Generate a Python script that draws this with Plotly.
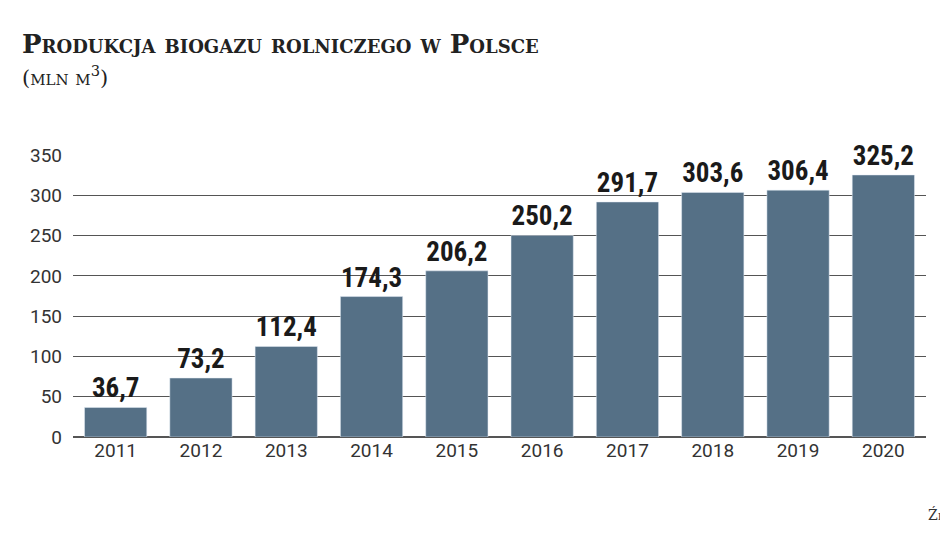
import plotly.graph_objects as go

years = ["2011", "2012", "2013", "2014", "2015", "2016", "2017", "2018", "2019", "2020"]
production = [36.7, 73.2, 112.4, 174.3, 206.2, 250.2, 291.7, 303.6, 306.4, 325.2]
labels = [f"{v:.1f}".replace(".", ",") for v in production]

L, R, T, B = 65, 30, 147, 107
W, H = 948, 536


def px_x(x):
    return (x - L) / (W - L - R)


def px_y(y):
    # y measured from the bottom of the page
    return (y - B) / (H - T - B)


fig = go.Figure(
    go.Bar(
        x=years,
        y=production,
        text=labels,
        textposition="outside",
        textfont=dict(family="Roboto Condensed, Roboto, sans-serif", size=27, color="#1a1a1a", weight="bold"),
        marker=dict(color="#557086"),
        cliponaxis=False,
    )
)

fig.update_layout(
    width=W,
    height=H,
    paper_bgcolor="white",
    plot_bgcolor="white",
    margin=dict(l=L, r=R, t=T, b=B),
    bargap=0.27,
    showlegend=False,
    font=dict(family="Roboto, sans-serif", color="#333"),
    xaxis=dict(tickfont=dict(size=19, color="#333"), showline=False, ticks=""),
    yaxis=dict(
        range=[0, 350],
        dtick=50,
        gridcolor="#555",
        gridwidth=1,
        tickfont=dict(size=19, color="#333"),
        zeroline=True,
        zerolinecolor="#555",
        ticklabelstandoff=10,
    ),
    annotations=[
        dict(text="<b>Produkcja biogazu rolniczego w Polsce</b>", x=px_x(12), y=px_y(500),
             font=dict(family="DejaVu Serif", size=26, color="#222", variant="small-caps")),
        dict(text="(mln m<sup>3</sup>)", x=px_x(12), y=px_y(468),
             font=dict(family="DejaVu Serif", size=21, color="#222", variant="small-caps")),
        dict(text="Źródło: KOWR", x=px_x(918), y=px_y(30), xanchor="right",
             font=dict(family="DejaVu Serif", size=14, color="#333", variant="small-caps")),
    ],
)
fig.update_annotations(xref="paper", yref="paper", showarrow=False, xanchor=None, yanchor="middle")
for a in fig.layout.annotations:
    if a.xanchor is None:
        a.xanchor = "left"

fig.write_html("out.html")
